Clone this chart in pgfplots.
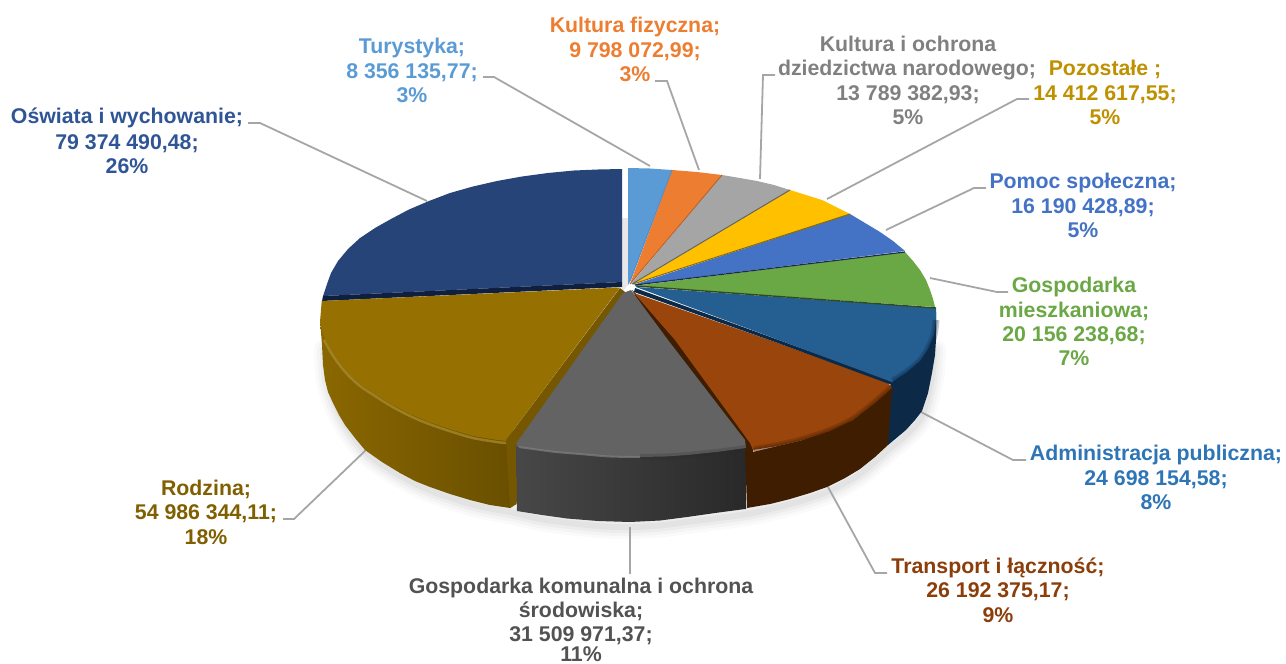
\documentclass[border=0pt]{standalone}
\usepackage{fontspec}
\setmainfont{Liberation Sans}
\usepackage{pgfplots}
\pgfplotsset{compat=1.18}
\definecolor{cOsw}{HTML}{264478}
\definecolor{cOswT}{HTML}{2F5597}
\definecolor{cOswD}{HTML}{0F1F3F}
\definecolor{cRod}{HTML}{967000}
\definecolor{cRodD}{HTML}{745700}
\definecolor{cGk}{HTML}{636363}
\definecolor{cTr}{HTML}{9A450B}
\definecolor{cTrD}{HTML}{3F1D00}
\definecolor{cAd}{HTML}{255E91}
\definecolor{cAdT}{HTML}{2E75B6}
\definecolor{cAdD}{HTML}{0C2A47}
\definecolor{cGm}{HTML}{6AA845}
\definecolor{cPo}{HTML}{4472C4}
\definecolor{cPz}{HTML}{FFC000}
\definecolor{cKo}{HTML}{A5A5A5}
\definecolor{cKf}{HTML}{ED7D31}
\definecolor{cTu}{HTML}{5B9BD5}
\definecolor{leader}{HTML}{A6A6A6}
\newcommand{\lab}[4]{\node[anchor=base,inner sep=0pt,text=#1,font=\fontsize{21.3}{25}\selectfont\bfseries] at (axis cs:#2,#3) {#4};}
\begin{document}
\begin{tikzpicture}
\begin{axis}[name=a,scale only axis,width=1286pt,height=664pt,xmin=0,xmax=1286,ymin=0,ymax=664,y dir=reverse,hide axis,clip=false]
% soft shadow under the pie
\addplot[draw=black,opacity=0.02,line width=24pt,line join=round,line cap=round,smooth] coordinates {(326,350)(327,370)(329,385)(337,408)(349,430)(369,455)(404,478)(434,492)(474,505)(514,513)(546,520)(598,526)(630,527)(660,525.5)(687,522)(747,514)(790,504)(827,492)(860,474)(888,450)(906,435)(922,416)(932,378)(934,350)};
\addplot[draw=black,opacity=0.025,line width=18pt,line join=round,line cap=round,smooth] coordinates {(326,350)(327,370)(329,385)(337,408)(349,430)(369,455)(404,478)(434,492)(474,505)(514,513)(546,520)(598,526)(630,527)(660,525.5)(687,522)(747,514)(790,504)(827,492)(860,474)(888,450)(906,435)(922,416)(932,378)(934,350)};
\addplot[draw=black,opacity=0.03,line width=12pt,line join=round,line cap=round,smooth] coordinates {(326,350)(327,370)(329,385)(337,408)(349,430)(369,455)(404,478)(434,492)(474,505)(514,513)(546,520)(598,526)(630,527)(660,525.5)(687,522)(747,514)(790,504)(827,492)(860,474)(888,450)(906,435)(922,416)(932,378)(934,350)};
\addplot[draw=black,opacity=0.04,line width=6pt,line join=round,line cap=round,smooth] coordinates {(326,350)(327,370)(329,385)(337,408)(349,430)(369,455)(404,478)(434,492)(474,505)(514,513)(546,520)(598,526)(630,527)(660,525.5)(687,522)(747,514)(790,504)(827,492)(860,474)(888,450)(906,435)(922,416)(932,378)(934,350)};
% gap shadow
\addplot[fill=black!9,draw=none] coordinates {(622,218)(628,218)(628,285)(622,292)} --cycle;
% leader lines
\addplot[draw=leader,line width=1.8pt] coordinates {(483,77)(494,77)(650,166)};
\addplot[draw=leader,line width=1.8pt] coordinates {(655,81)(667,81)(699,170)};
\addplot[draw=leader,line width=1.8pt] coordinates {(775,75)(763,75)(760,179)};
\addplot[draw=leader,line width=1.8pt] coordinates {(1029,99)(1017,99)(827,199)};
\addplot[draw=leader,line width=1.8pt] coordinates {(986,188)(974,188)(886,230)};
\addplot[draw=leader,line width=1.8pt] coordinates {(1008,292)(997,292)(930,278)};
\addplot[draw=leader,line width=1.8pt] coordinates {(1026,460)(1013,460)(921,412)};
\addplot[draw=leader,line width=1.8pt] coordinates {(887,573)(875,573)(828,487)};
\addplot[draw=leader,line width=1.8pt] coordinates {(630,574)(630,527)};
\addplot[draw=leader,line width=1.8pt] coordinates {(283,519)(294,519)(366,450)};
\addplot[draw=leader,line width=1.8pt] coordinates {(248,123)(260,123)(427,201)};
% side walls
\addplot[draw=none,left color=cRod!92!black,middle color=cRodD,right color=cRodD!90!black] coordinates {(320,320)(322,345)(323,365)(325,380)(328,392)(333,403)(339,415)(345,425)(355,438)(365,450)(382,462)(400,473)(415,481)(430,487)(450,494)(470,500)(490,505)(510,508)(516,504)(516,440)(500,400)(400,370)};
\addplot[draw=none,fill=cRodD] coordinates {(620,288)(630,296)(525,450)(516.5,504)(510,508)(506,440)} --cycle;
\addplot[draw=none,left color=black!72,right color=black!84] coordinates {(516.5,444)(746,444)(746,509)(745,509)(715,513)(687,517)(660,520.5)(630,522)(598,521)(567,518.5)(542,515)(517,511)};
\addplot[draw=none,fill=cAdD] coordinates {(936,312)(936,340)(935,355)(932,373)(928,393)(922,411)(915,420)(906,430)(888,445)(889,390)(892,380)(920,358)(934,330)} --cycle;
\addplot[draw=none,fill=cTrD] coordinates {(632,290)(680,338)(755,445)(753,452)(803,440)(853,420)(892,388)(888,445)(875,457)(860,469)(845,478)(827,487)(810,493)(790,499)(770,504)(747,508)(745,448)(660,340)} --cycle;
% top faces
\addplot[draw=none,fill=cOsw] coordinates {(622,169)(598,169.5)(574,170.5)(548,173)(522,176.5)(497,181)(473,186.5)(450,193)(429,201)(409,209.5)(391,219)(375,228)(360,238)(348,249)(338,261)(331,273)(327,284)(323,296)(622,282)} --cycle;
\addplot[draw=none,fill=cOswD] coordinates {(323,296)(622,282)(622,287)(322,301)} --cycle;
\addplot[draw=none,fill=cRod] coordinates {(321.7,301)(620,287.5)(506,440)(506,441)(497,440)(473,436)(451,429.5)(429,422)(410,414)(391,404)(375,394)(360,384)(348,373)(338,361)(330,349)(324,337)(320,322)} --cycle;
\addplot[draw=none,fill=cGk] coordinates {(623,293)(631,290)(668,340)(745,440)(746,448)(716,452)(687,455)(665,456.5)(640,457)(610,456.5)(580,454)(556,452)(533,449)(516.5,446.5)(516.5,443)} --cycle;
\addplot[draw=none,fill=cTr] coordinates {(634,293)(775,342)(888,383)(892,388)(875,403)(853,420)(830,431)(803,440)(778,446)(753,450)(750,443)(675,340)} --cycle;
\addplot[draw=none,fill=cAdD] coordinates {(635,288)(892,381)(892,385)(775,342)(634,292)} --cycle;
\addplot[draw=none,fill=cAd] coordinates {(636,287)(936,308)(936,320)(934,335)(928,349)(920,361)(907,372)(892,382)} --cycle;
\addplot[draw=none,fill=cGm] coordinates {(634,286)(905,252)(913,261)(920,270)(926,280)(930,290)(933,299)(935,307)} --cycle;
\addplot[draw=none,fill=cPo] coordinates {(633,285)(850,214)(865,223)(880,232)(893,241)(905,251)} --cycle;
\addplot[draw=none,fill=cPz] coordinates {(632,284)(790,190)(806,195)(822,200)(836,207)(850,214)} --cycle;
\addplot[draw=none,fill=cKo] coordinates {(631,284)(722,175)(740,178)(757,181)(774,185)(790,190)} --cycle;
\addplot[draw=none,fill=cKf] coordinates {(630,284)(672,170)(697,172)(722,175)} --cycle;
\addplot[draw=none,fill=cTu] coordinates {(628,168)(650,168.5)(672,170)(631,280)(628,285)} --cycle;
% edges between the faces
\addplot[draw=black!55!cGm,line width=1.4pt] coordinates {(636,286)(936,308)};
\addplot[draw=black!60!cPo,line width=1.2pt] coordinates {(635,285)(905,252)};
\addplot[draw=black!45!cPz,line width=1pt] coordinates {(633,284)(850,214)};
\addplot[draw=black!40!cKo,line width=1pt] coordinates {(632,284)(790,190)};
\addplot[draw=black!25!cKf,line width=0.8pt] coordinates {(630,284)(722,175)};
\addplot[draw=black!10!cTu,line width=0.8pt] coordinates {(630,281)(672,170)};
% bevels on the rims
\addplot[draw=cAdD,opacity=0.25,line width=7pt,smooth] coordinates {(936,320)(934,335)(928,349)(920,361)(907,372)(893,381)};
\addplot[draw=cAdD,opacity=0.3,line width=3.5pt,smooth] coordinates {(936,320)(934,335)(928,349)(920,361)(907,372)(893,381)};
\addplot[draw=cTrD,opacity=0.25,line width=8pt,smooth] coordinates {(892,388)(875,403)(853,420)(830,431)(803,440)(778,446)(754,450)};
\addplot[draw=cTrD,opacity=0.3,line width=4pt,smooth] coordinates {(892,388)(875,403)(853,420)(830,431)(803,440)(778,446)(754,450)};
\addplot[draw=black!84,opacity=0.22,line width=6pt,smooth] coordinates {(746,448)(716,452)(687,455)(665,456.5)(640,457)};
\addplot[draw=black!50,opacity=0.7,line width=2pt,smooth] coordinates {(519,447)(533,449)(556,452)(580,454)(610,456.5)(640,457)};
\addplot[draw=cRod!80!white,opacity=0.7,line width=2.5pt,smooth] coordinates {(324,340)(330,351)(338,363)(348,375)(360,386)(375,396)(391,406)(410,416)(429,424)(451,431.5)(473,438)(497,442)(506,443)};
% labels
\lab{cOswT}{127}{123}{Oświata i wychowanie;}
\lab{cOswT}{127}{149}{79 374 490,48;}
\lab{cOswT}{127}{173}{26\%}
\lab{cTu}{412}{53}{Turystyka;}
\lab{cTu}{412}{78}{8 356 135,77;}
\lab{cTu}{412}{102}{3\%}
\lab{cKf}{635}{32}{Kultura fizyczna;}
\lab{cKf}{635}{57}{9 798 072,99;}
\lab{cKf}{635}{81}{3\%}
\lab{black!50}{908}{51}{Kultura i ochrona}
\lab{black!50}{907}{75}{dziedzictwa narodowego;}
\lab{black!50}{908}{100}{13 789 382,93;}
\lab{black!50}{908}{124}{5\%}
\lab{cPz!75!black}{1105}{75}{Pozostałe ;}
\lab{cPz!75!black}{1105}{100}{14 412 617,55;}
\lab{cPz!75!black}{1105}{124}{5\%}
\lab{cPo}{1083}{188}{Pomoc społeczna;}
\lab{cPo}{1083}{213}{16 190 428,89;}
\lab{cPo}{1083}{237}{5\%}
\lab{cGm}{1074}{292}{Gospodarka}
\lab{cGm}{1074}{317}{mieszkaniowa;}
\lab{cGm}{1074}{341}{20 156 238,68;}
\lab{cGm}{1074}{365}{7\%}
\lab{cAdT}{1156}{460}{Administracja publiczna;}
\lab{cAdT}{1156}{485}{24 698 154,58;}
\lab{cAdT}{1156}{509}{8\%}
\lab{cTr!90!black}{998}{573}{Transport i łączność;}
\lab{cTr!90!black}{998}{597}{26 192 375,17;}
\lab{cTr!90!black}{998}{622}{9\%}
\lab{black!68}{581}{593}{Gospodarka komunalna i ochrona}
\lab{black!68}{581}{617}{środowiska;}
\lab{black!68}{581}{641}{31 509 971,37;}
\lab{black!68}{581}{661.5}{11\%}
\lab{cRod!85!black}{206}{495}{Rodzina;}
\lab{cRod!85!black}{206}{519}{54 986 344,11;}
\lab{cRod!85!black}{206}{544}{18\%}
\end{axis}
\pgfresetboundingbox
\path[use as bounding box] (a.south west) rectangle (a.north east);
\end{tikzpicture}
\end{document}
